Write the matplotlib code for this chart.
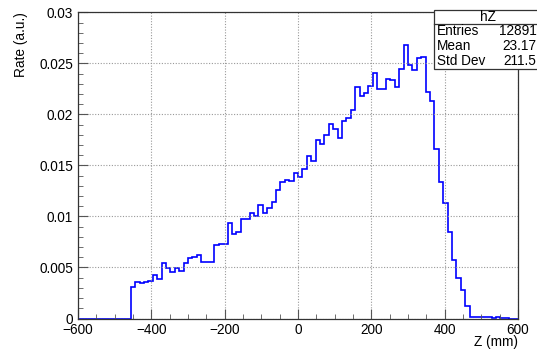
import numpy as np
import matplotlib.pyplot as plt
from matplotlib.ticker import MultipleLocator
from matplotlib.patches import Rectangle

plt.rcParams['font.family'] = ['Liberation Sans', 'DejaVu Sans']

# histogram hZ: 100 bins from -600 to 600 mm
z_min, z_max, n_bins = -600, 600, 100
rate = [0.0] * 12 + [
    0.00312, 0.00361, 0.00351, 0.00355, 0.00371, 0.00426, 0.00390, 0.00541,
    0.00492, 0.00453, 0.00492, 0.00469, 0.00547, 0.00590, 0.00605, 0.00620,
    0.00554, 0.00554, 0.00554, 0.00716, 0.00730, 0.00730, 0.00939, 0.00830,
    0.00846, 0.00971, 0.00971, 0.01031, 0.01002, 0.01111, 0.01037, 0.01081,
    0.01139, 0.01263, 0.01336, 0.01361, 0.01345, 0.01429, 0.01389, 0.01466,
    0.01593, 0.01544, 0.01750, 0.01708, 0.01799, 0.01907, 0.01858, 0.01770,
    0.01934, 0.01966, 0.02044, 0.02267, 0.02184, 0.02208, 0.02276, 0.02404,
    0.02247, 0.02247, 0.02345, 0.02338, 0.02267, 0.02443, 0.02684, 0.02485,
    0.02436, 0.02551, 0.02567, 0.02224, 0.02129, 0.01664, 0.01336, 0.01132,
    0.00846, 0.00571, 0.00394, 0.00282, 0.00123, 0.00018, 0.00018, 0.00012,
    0.00010, 0.00010, 0.00005, 0.00010, 0.00005, 0.00005, 0.0, 0.0,
]
stats_name = "hZ"
stats_rows = [("Entries", "12891"), ("Mean", "23.17"), ("Std Dev", "211.5")]

edges = np.linspace(z_min, z_max, n_bins + 1)

fig = plt.figure(figsize=(5.37, 3.5), dpi=100)
ax = fig.add_axes([0.1453, 0.09, 0.8193, 0.8743])

ax.stairs(rate, edges, color='#0000ff', linewidth=1.2)

ax.set_xlim(z_min, z_max)
ax.set_ylim(0, 0.03)
ax.xaxis.set_major_locator(MultipleLocator(200))
ax.xaxis.set_minor_locator(MultipleLocator(50))
ax.yaxis.set_minor_locator(MultipleLocator(0.001))
ax.set_yticks([0, 0.005, 0.01, 0.015, 0.02, 0.025, 0.03])
ax.set_yticklabels(['0', '0.005', '0.01', '0.015', '0.02', '0.025', '0.03'])
ax.tick_params(which='both', direction='in', top=False, right=False,
               labelsize=9.8, color='#555555')
ax.tick_params(which='major', length=7)
ax.tick_params(which='minor', length=3.5)
ax.tick_params(axis='x', pad=3)
ax.grid(True, which='major', color='#999999', linestyle=(0, (1, 1.5)), linewidth=0.8)
for s in ax.spines.values():
    s.set_linewidth(0.9)
    s.set_color('#333333')

ax.set_xlabel("Z (mm)", fontsize=9.8, ha='right')
ax.xaxis.set_label_coords(1.0, -0.055)
ax.set_ylabel("Rate (a.u.)", fontsize=9.8, loc='top', labelpad=8)

# stats box (runs off the right edge like the original)
x0, y0, y1 = 434 / 537, 1 - 69 / 350, 1 - 10 / 350
ysep = 1 - 23.5 / 350
fig.patches.append(Rectangle((x0, y0), 0.25, y1 - y0, transform=fig.transFigure,
                             facecolor='white', edgecolor='#333333', linewidth=0.9,
                             zorder=5))
fig.lines.append(plt.Line2D([x0, 1.0], [ysep, ysep], transform=fig.transFigure,
                            color='#333333', linewidth=0.9, zorder=6))
fig.text((x0 + 1.0) / 2 + 0.004, (y1 + ysep) / 2, stats_name, ha='center', va='center',
         fontsize=9.8, zorder=7)
row_h = (ysep - y0) / len(stats_rows)
for i, (name, val) in enumerate(stats_rows):
    yy = ysep - row_h * (i + 0.5)
    fig.text(x0 + 0.006, yy, name, ha='left', va='center', fontsize=9.8, zorder=7)
    fig.text(0.999, yy, val, ha='right', va='center', fontsize=9.8, zorder=7)

fig.savefig("out.png", dpi=100)
